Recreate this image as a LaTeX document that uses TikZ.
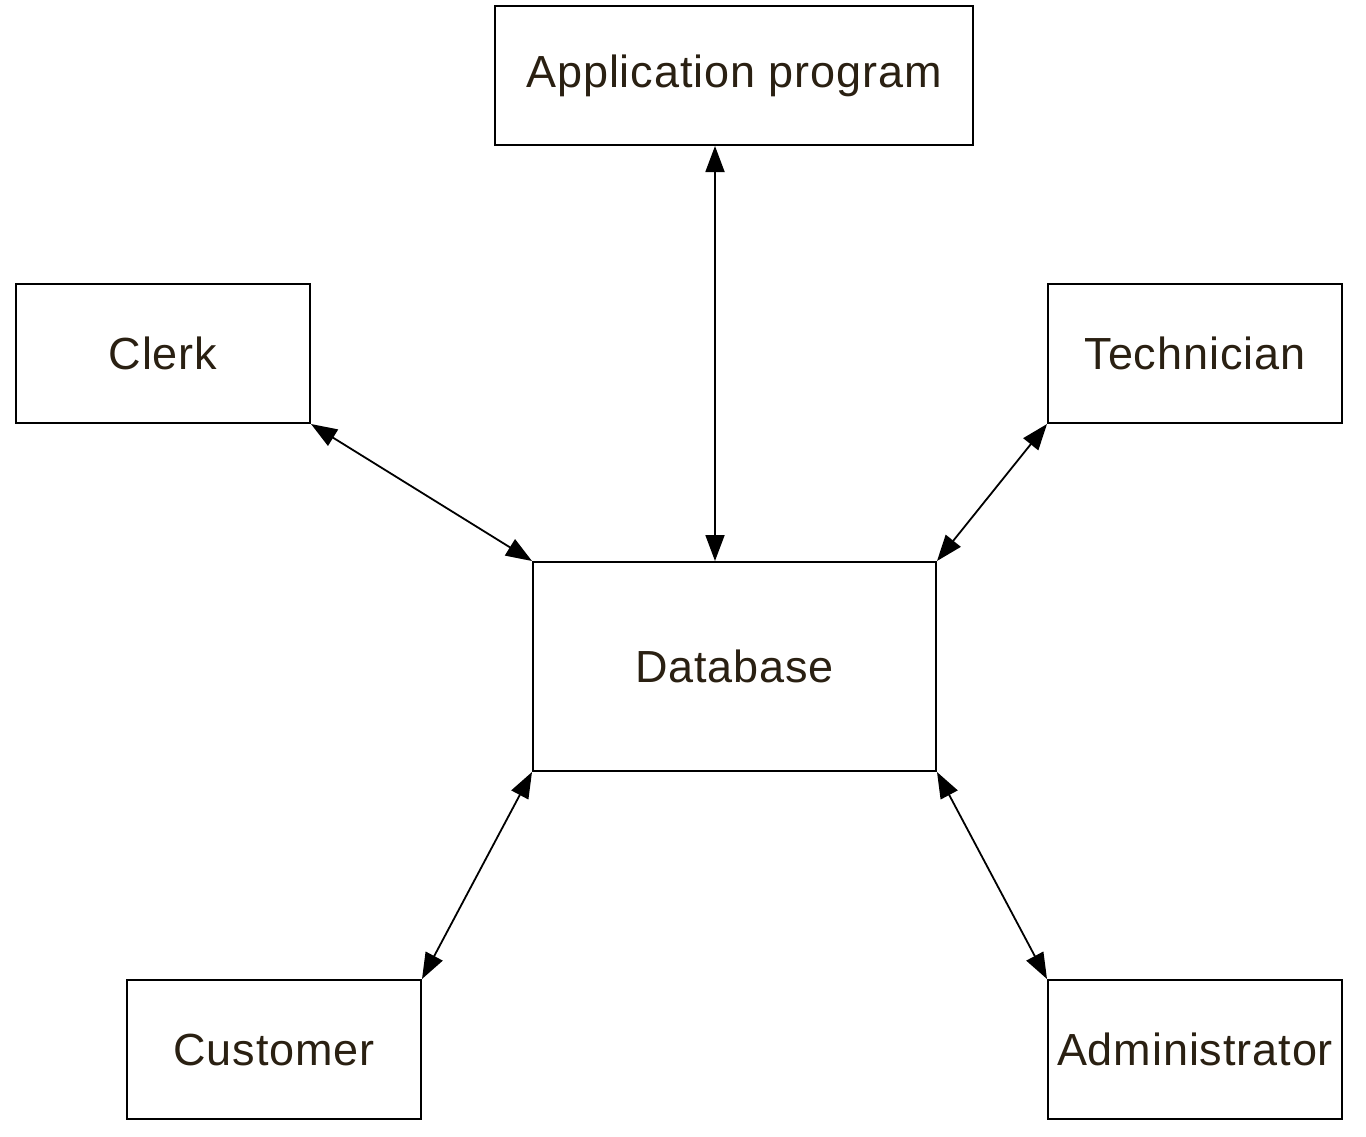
\documentclass[tikz,border=0pt]{standalone}
\usepackage{fontspec}
\setmainfont{Liberation Sans}
\newfontfamily\boxfont[LetterSpace=2]{Liberation Sans}
\usetikzlibrary{arrows.meta}
\definecolor{labelbrown}{RGB}{42,32,18}
\begin{document}
\begin{tikzpicture}[x=0.5pt, y=-0.5pt,
	box/.style={draw=black, line width=1pt, fill=white, inner sep=0pt,
		minimum height=69.5pt, font=\boxfont\fontsize{22.5}{27}\selectfont,
		text=labelbrown},
	link/.style={line width=0.9pt, {Triangle[length=13pt, width=9.5pt]}-{Triangle[length=13pt, width=9.5pt]}}]
	\useasboundingbox (0,0) rectangle (1366,1136);
	% Kasten oben
	\node[box, minimum width=239pt] (app) at (734, 75.5) {Application program};
	% Kaesten links und rechts
	\node[box, minimum width=147pt] (clerk) at (163, 353.5) {Clerk};
	\node[box, minimum width=147pt] (tech) at (1195, 353.5) {Technician};
	% Datenbank in der Mitte
	\node[box, minimum width=201.5pt, minimum height=104.5pt] (db) at (734.5, 666.5) {Database};
	% Kaesten unten
	\node[box, minimum width=147pt] (cust) at (274, 1049.5) {Customer};
	\node[box, minimum width=147pt] (admin) at (1195, 1049.5) {Administrator};

	% Verbindungen
	\draw[link] ([xshift=-9.5pt]app.south) -- ([xshift=-9.75pt]db.north);
	\draw[link] (clerk.south east) -- (db.north west);
	\draw[link] (tech.south west) -- (db.north east);
	\draw[link] (cust.north east) -- (db.south west);
	\draw[link] (admin.north west) -- (db.south east);
\end{tikzpicture}
\end{document}
